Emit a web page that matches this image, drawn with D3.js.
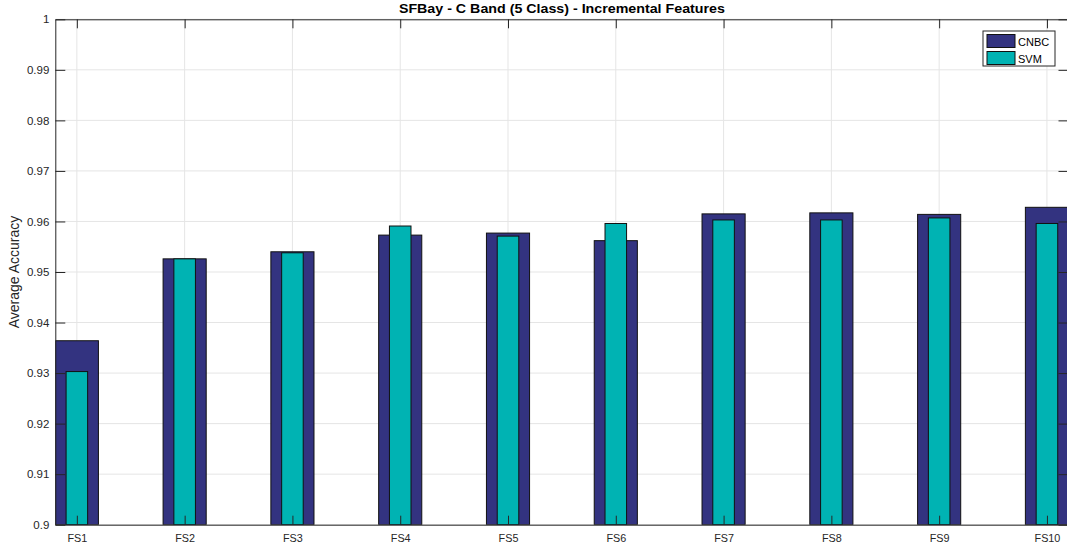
<!DOCTYPE html>
<html>
<head>
<meta charset="utf-8">
<script src="https://cdn.jsdelivr.net/npm/d3@7"></script>
<style>
  body { margin: 0; background: #fff; }
  svg { display: block; font-family: "Liberation Sans", Arial, sans-serif; }
</style>
</head>
<body>
<svg id="chart"></svg>
<script>
// Feature sets and accuracy per classifier
const categories = ["FS1", "FS2", "FS3", "FS4", "FS5", "FS6", "FS7", "FS8", "FS9", "FS10"];
const cnbc = [0.9364, 0.9526, 0.9540, 0.9573, 0.9577, 0.9562, 0.9615, 0.9617, 0.9614, 0.9628];
const svm = [0.9303, 0.9526, 0.9538, 0.9591, 0.9571, 0.9596, 0.9603, 0.9603, 0.9607, 0.9596];
const yTicks = [0.9, 0.91, 0.92, 0.93, 0.94, 0.95, 0.96, 0.97, 0.98, 0.99, 1];

const width = 1067, height = 554;
const margin = { top: 19.3, left: 55.3, bottom: 554 - 524.7, right: 1067 - 1068.5 };

const svg = d3.select("#chart")
    .attr("width", width)
    .attr("height", height);

// x is continuous so bar widths follow MATLAB's bar units
const x = d3.scaleLinear()
    .domain([0.8, 10.2])
    .range([margin.left, width - margin.right]);

const y = d3.scaleLinear()
    .domain([0.9, 1])
    .range([height - margin.bottom, margin.top]);

const axisColor = "#262626";

svg.append("defs").append("clipPath")
    .attr("id", "plotClip")
    .append("rect")
    .attr("x", margin.left)
    .attr("y", margin.top)
    .attr("width", x.range()[1] - margin.left)
    .attr("height", y.range()[0] - margin.top);

// Grid lines
const grid = svg.append("g");
grid.selectAll("line.hg")
    .data(yTicks)
    .enter()
    .append("line")
    .attr("x1", margin.left)
    .attr("x2", x.range()[1])
    .attr("y1", d => y(d))
    .attr("y2", d => y(d))
    .attr("stroke", "#e5e5e5")
    .attr("stroke-width", 1);
grid.selectAll("line.vg")
    .data(categories)
    .enter()
    .append("line")
    .attr("x1", (d, i) => x(i + 1))
    .attr("x2", (d, i) => x(i + 1))
    .attr("y1", margin.top)
    .attr("y2", y.range()[0])
    .attr("stroke", "#e5e5e5")
    .attr("stroke-width", 1);

// Bars
const bars = svg.append("g").attr("clip-path", "url(#plotClip)");
bars.selectAll("rect.cnbc")
    .data(cnbc)
    .enter()
    .append("rect")
    .attr("x", (d, i) => x(i + 1 - 0.2))
    .attr("width", x(1.2) - x(0.8))
    .attr("y", d => y(d))
    .attr("height", d => y(0.9) - y(d))
    .attr("fill", "#333380")
    .attr("stroke", "#111")
    .attr("stroke-width", 1);
bars.selectAll("rect.svm")
    .data(svm)
    .enter()
    .append("rect")
    .attr("x", (d, i) => x(i + 1 - 0.1))
    .attr("width", x(1.1) - x(0.9))
    .attr("y", d => y(d))
    .attr("height", d => y(0.9) - y(d))
    .attr("fill", "#00b3b3")
    .attr("stroke", "#111")
    .attr("stroke-width", 1);

// Axes (ticks pointing inward)
const yAxis = d3.axisLeft(y)
    .tickValues(yTicks)
    .tickFormat(d => d3.format("")(+d.toFixed(2)))
    .tickSizeInner(-10)
    .tickSizeOuter(0)
    .tickPadding(6);
const gy = svg.append("g")
    .attr("transform", `translate(${margin.left},0)`)
    .call(yAxis);

const xAxis = d3.axisBottom(x)
    .tickValues(d3.range(1, categories.length + 1))
    .tickFormat(d => categories[d - 1])
    .tickSizeInner(-9)
    .tickSizeOuter(0)
    .tickPadding(10);
const gx = svg.append("g")
    .attr("transform", `translate(0,${y.range()[0]})`)
    .call(xAxis);

const gTop = svg.append("g")
    .attr("transform", `translate(0,${margin.top})`)
    .call(d3.axisTop(x).tickValues(d3.range(1, 11)).tickFormat("").tickSizeInner(-9).tickSizeOuter(0));
const gRight = svg.append("g")
    .attr("transform", `translate(${x.range()[1]},0)`)
    .call(d3.axisRight(y).tickValues(yTicks).tickFormat("").tickSizeInner(-10).tickSizeOuter(0));

[gy, gx, gTop, gRight].forEach(g => {
    g.select(".domain").attr("stroke", axisColor).attr("stroke-width", 1);
    g.selectAll(".tick line").attr("stroke", axisColor);
    g.selectAll(".tick text")
        .attr("fill", axisColor)
        .style("font-size", "11.5px")
        .style("font-family", "'Liberation Sans', Arial, sans-serif");
});
gx.selectAll(".tick text").style("font-size", "10.8px");

// Title
svg.append("text")
    .attr("x", (margin.left + x.range()[1]) / 2)
    .attr("y", 13)
    .attr("text-anchor", "middle")
    .style("font-size", "13px")
    .style("font-weight", "bold")
    .attr("textLength", 326)
    .attr("lengthAdjust", "spacingAndGlyphs")
    .attr("fill", "#000")
    .text("SFBay - C Band (5 Class) - Incremental Features");

// Y label
svg.append("text")
    .attr("transform", `translate(19,${(margin.top + y.range()[0]) / 2}) rotate(-90)`)
    .attr("text-anchor", "middle")
    .style("font-size", "14px")
    .attr("fill", axisColor)
    .text("Average Accuracy");

// Legend
const legendItems = [
    { name: "CNBC", color: "#333380" },
    { name: "SVM", color: "#00b3b3" }
];
const legend = svg.append("g").attr("transform", "translate(983,31)");
legend.append("rect")
    .attr("width", 72)
    .attr("height", 35)
    .attr("fill", "#fff")
    .attr("stroke", "#262626")
    .attr("stroke-width", 1);
const li = legend.selectAll("g.item")
    .data(legendItems)
    .enter()
    .append("g")
    .attr("transform", (d, i) => `translate(4,${3.5 + i * 17})`);
li.append("rect")
    .attr("width", 28)
    .attr("height", 13)
    .attr("fill", d => d.color)
    .attr("stroke", "#111");
li.append("text")
    .attr("x", 31)
    .attr("y", 11)
    .style("font-size", "11px")
    .attr("fill", "#000")
    .text(d => d.name);
</script>
</body>
</html>
